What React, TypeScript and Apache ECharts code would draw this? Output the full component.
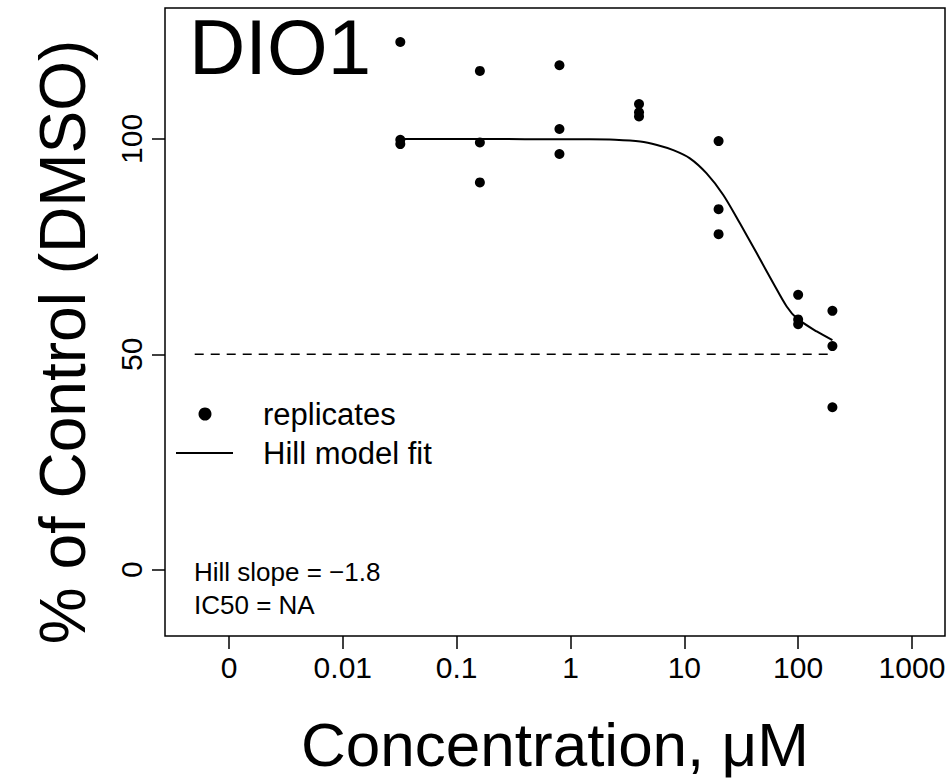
import React, { useEffect, useRef } from "react";
import * as echarts from "echarts";

// ---- data ----
const concentrations = [0.032, 0.16, 0.8, 4, 20, 100, 200];
const replicate1 = [122.5, 115.8, 117.1, 108.1, 99.5, 63.8, 60.1];
const replicate2 = [99.8, 99.2, 102.3, 106.2, 83.7, 58.1, 51.9];
const replicate3 = [98.8, 89.9, 96.5, 105.2, 77.9, 57.0, 37.7];

const fitConcentrations = [0.032, 0.087, 0.24, 0.66, 1.48, 2.46, 4.1, 5.75, 8, 11.2, 15.7, 22, 30.8, 43.2, 60.5, 79.3, 97, 145.5, 200];
const fitValues = [100, 100, 100, 99.9, 99.9, 99.8, 99.4, 98.6, 97.4, 95.5, 92.0, 87.0, 80.4, 73.5, 66.5, 61.1, 58.4, 55.3, 53.3];

const refLineFrom = 0.0005;
const refLineTo = 200;
const refLineLevel = 50;

const xTickValues = [0.001, 0.01, 0.1, 1, 10, 100, 1000];
const xTickLabels = ["0", "0.01", "0.1", "1", "10", "100", "1000"];
const yTickValues = [0, 50, 100];

const titleText = "DIO1";
const xTitle = "Concentration, \u03bcM";
const yTitle = "% of Control (DMSO)";
const legendPoints = "replicates";
const legendLine = "Hill model fit";
const annotation1 = "Hill slope = \u22121.8";
const annotation2 = "IC50 = NA";

const FONT = '"Liberation Sans", Arial, Helvetica, sans-serif';

export default function App() {
  const ref = useRef<HTMLDivElement>(null);

  useEffect(() => {
    if (!ref.current) return;
    const chart = echarts.init(ref.current, undefined, { renderer: "svg" });

    const points: number[][] = [];
    [replicate1, replicate2, replicate3].forEach((rep) => {
      rep.forEach((v, i) => points.push([Math.log10(concentrations[i]), v]));
    });
    const fit = fitConcentrations.map((c, i) => [Math.log10(c), fitValues[i]]);
    const ref50 = [
      [Math.log10(refLineFrom), refLineLevel],
      [Math.log10(refLineTo), refLineLevel],
    ];
    const xTickLogs = xTickValues.map((v) => Math.log10(v));

    const text = (t: string, x: number, y: number, size: number, align = "left", extra: any = {}) => ({
      type: "text",
      x,
      y,
      ...extra,
      style: {
        text: t,
        fontSize: size,
        fontFamily: FONT,
        fill: "#000",
        textAlign: align,
        verticalAlign: "middle",
      },
    });

    const option: any = {
      animation: false,
      backgroundColor: "#fff",
      textStyle: { fontFamily: FONT },
      grid: {
        left: 165,
        top: 8,
        right: 4,
        bottom: 147,
        show: true,
        borderColor: "#000",
        borderWidth: 1.5,
        backgroundColor: "transparent",
        containLabel: false,
      },
      xAxis: {
        type: "value",
        min: -3.562,
        max: 3.29,
        axisLine: { show: false, onZero: false },
        splitLine: { show: false },
        axisTick: {
          show: true,
          customValues: xTickLogs,
          length: 13,
          lineStyle: { color: "#000", width: 1.5 },
        },
        axisLabel: {
          customValues: xTickLogs,
          margin: 16,
          fontSize: 30,
          color: "#000",
          fontFamily: FONT,
          formatter: (v: number) => {
            const i = xTickLogs.findIndex((t) => Math.abs(t - v) < 1e-6);
            return i >= 0 ? xTickLabels[i] : "";
          },
        },
      },
      yAxis: {
        type: "value",
        min: -15.4,
        max: 130.4,
        axisLine: { show: false, onZero: false },
        splitLine: { show: false },
        axisTick: {
          show: true,
          customValues: yTickValues,
          length: 13,
          lineStyle: { color: "#000", width: 1.5 },
        },
        axisLabel: {
          customValues: yTickValues,
          rotate: 90,
          margin: 19,
          fontSize: 30,
          color: "#000",
          fontFamily: FONT,
        },
      },
      series: [
        {
          name: "ref50",
          type: "line",
          data: ref50,
          showSymbol: false,
          symbol: "none",
          lineStyle: { color: "#000", width: 1.5, type: [9, 7] },
          z: 1,
        },
        {
          name: legendLine,
          type: "line",
          data: fit,
          showSymbol: false,
          symbol: "none",
          smooth: 0.3,
          lineStyle: { color: "#000", width: 2 },
          z: 2,
        },
        {
          name: legendPoints,
          type: "scatter",
          data: points,
          symbol: "circle",
          symbolSize: 10,
          itemStyle: { color: "#000", opacity: 1 },
          z: 3,
        },
      ],
      graphic: [
        text(titleText, 189, 47, 78),
        {
          type: "circle",
          shape: { cx: 205, cy: 414, r: 6.5 },
          style: { fill: "#000" },
        },
        text(legendPoints, 263, 414, 31),
        {
          type: "line",
          shape: { x1: 176, y1: 453, x2: 233, y2: 453 },
          style: { stroke: "#000", lineWidth: 2 },
        },
        text(legendLine, 263, 453, 31),
        text(annotation1, 194, 572, 26),
        text(annotation2, 194, 605, 26),
        text(xTitle, 555, 744, 62, "center"),
        text(yTitle, 63, 342, 64, "center", { rotation: Math.PI / 2 }),
      ],
    };

    chart.setOption(option);
    return () => {
      chart.dispose();
    };
  }, []);

  return (
    <div
      ref={ref}
      style={{ position: "absolute", left: 0, top: 0, width: 949, height: 783, background: "#fff" }}
    />
  );
}
